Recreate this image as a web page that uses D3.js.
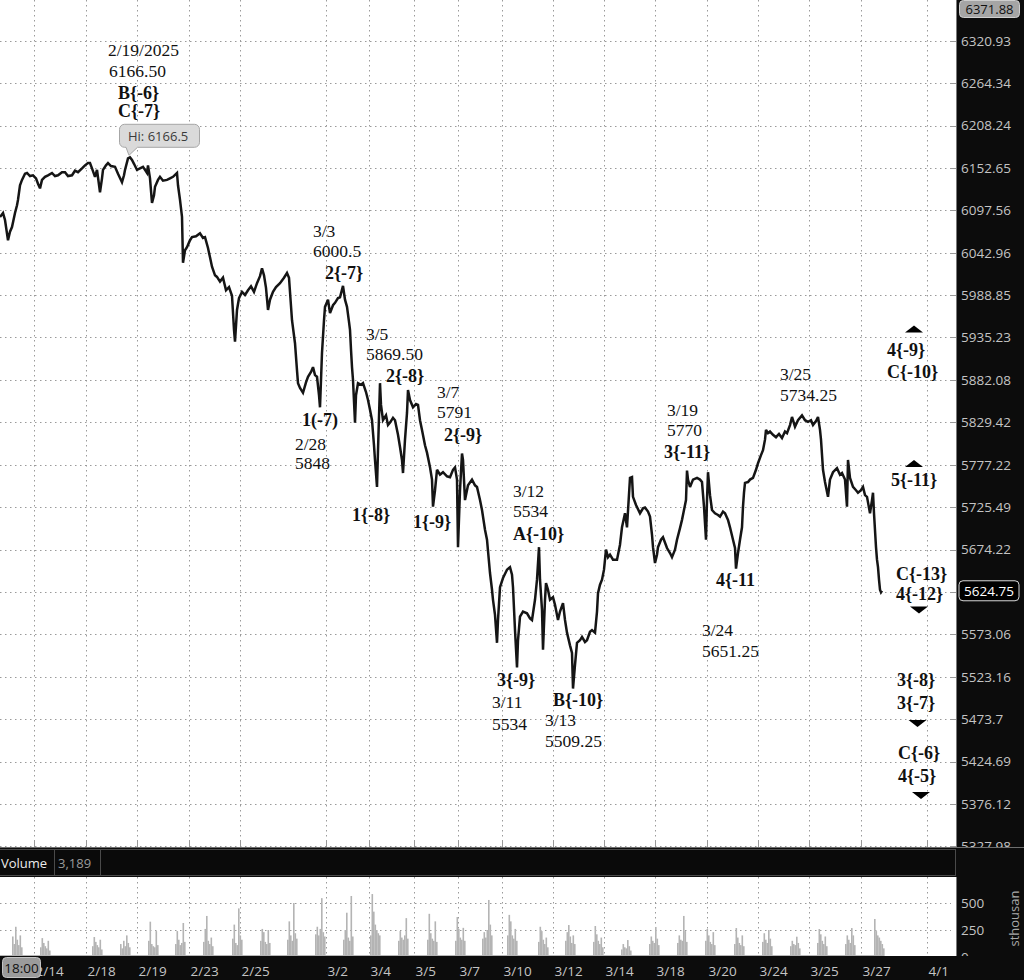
<!DOCTYPE html>
<html>
<head>
<meta charset="utf-8">
<title>ES chart</title>
<style>
  body { margin: 0; background: #fff; }
  svg { display: block; }
  .grid line { stroke: #9a9a9a; stroke-width: 1; stroke-dasharray: 1.5,3.5; }
  .ax text { font-family: "Open Sans", sans-serif; font-size: 13.5px; fill: #c4c4c4; }
  .note { font-family: "Liberation Serif", "Times New Roman", serif; fill: #111; }
</style>
</head>
<body>
<div id="chart"></div>
<script src="https://cdn.jsdelivr.net/npm/d3@7"></script>
<script>
// x unit = bar index (compressed intraday bars)
var priceData = [[0,6089],[6,6094],[10,6085],[16,6059],[20,6070],[24,6076],[30,6094],[34,6104],[36,6111],[40,6130],[44,6137],[50,6145],[54,6146],[60,6142],[66,6143],[72,6139],[76,6132],[80,6126],[84,6137],[90,6141],[96,6143],[104,6146],[110,6142],[116,6143],[124,6147],[130,6147],[136,6142],[144,6143],[150,6149],[156,6147],[164,6152],[170,6156],[176,6159],[180,6159],[184,6152],[190,6141],[194,6150],[200,6121],[204,6139],[206,6150],[212,6156],[216,6159],[222,6155],[230,6154],[236,6145],[244,6134],[248,6143],[250,6150],[256,6165],[260,6166.5],[264,6163],[268,6158],[274,6150],[280,6152],[286,6154],[290,6150],[294,6146],[296,6156],[300,6139],[304,6107],[308,6117],[310,6128],[316,6137],[320,6141],[326,6136],[334,6137],[340,6139],[346,6141],[354,6146],[356,6130],[360,6111],[364,6089],[366,6030],[370,6046],[374,6050],[380,6059],[384,6063],[392,6064],[400,6068],[406,6062],[410,6063],[416,6049],[420,6037],[424,6025],[430,6014],[434,6012],[440,6006],[446,6011],[452,5995],[458,5999],[464,5988],[468,5945],[470,5930],[474,5970],[478,5985],[484,5993],[490,5989],[496,5995],[502,6000],[508,5993],[514,6004],[520,6013],[524,6023],[528,6014],[532,5998],[536,5970],[540,5983],[546,5993],[552,5999],[560,6004],[568,6011],[574,6017],[578,6011],[584,5957],[590,5928],[594,5894],[596,5878],[600,5872],[606,5866],[612,5879],[616,5886],[622,5892],[626,5898],[630,5888],[634,5886],[638,5863],[640,5848],[644,5916],[648,5957],[650,5974],[656,5983],[660,5966],[666,5976],[670,5979],[676,5985],[680,5986],[686,6000.5],[690,5983],[694,5974],[698,5955],[700,5945],[702,5920],[704,5898],[706,5882],[710,5829],[712,5863],[716,5878],[722,5876],[726,5878],[732,5867],[736,5857],[740,5845],[744,5832],[748,5801],[750,5783],[754,5750],[756,5795],[760,5878],[762,5851],[766,5832],[772,5838],[776,5826],[780,5829],[786,5835],[790,5832],[796,5814],[800,5799],[804,5783],[806,5767],[810,5808],[814,5841],[816,5869.5],[820,5857],[826,5848],[832,5852],[836,5851],[840,5832],[844,5820],[850,5801],[854,5792],[860,5774],[864,5759],[866,5726],[870,5746],[874,5771],[880,5765],[886,5768],[894,5763],[900,5762],[906,5771],[910,5774],[914,5759],[916,5677],[920,5746],[924,5791],[926,5783],[930,5734],[936,5752],[944,5759],[950,5752],[954,5750],[960,5734],[964,5722],[970,5698],[974,5686],[980,5646],[984,5626],[986,5614],[990,5596],[994,5563],[996,5590],[1000,5629],[1006,5640],[1014,5650],[1020,5653],[1024,5644],[1026,5629],[1030,5578],[1034,5534],[1036,5566],[1040,5594],[1046,5600],[1054,5598],[1060,5592],[1064,5590],[1070,5614],[1074,5638],[1078,5677],[1080,5638],[1084,5602],[1086,5555],[1090,5614],[1092,5634],[1096,5626],[1100,5614],[1106,5617],[1110,5608],[1116,5590],[1120,5600],[1126,5610],[1130,5590],[1134,5575],[1140,5560],[1144,5551],[1146,5509.25],[1150,5537],[1154,5563],[1160,5566],[1164,5570],[1170,5564],[1174,5566],[1180,5576],[1184,5578],[1190,5575],[1194,5600],[1196,5622],[1200,5632],[1204,5638],[1208,5650],[1212,5674],[1216,5665],[1220,5668],[1226,5662],[1234,5662],[1240,5680],[1244,5701],[1250,5718],[1254,5701],[1260,5761],[1264,5762],[1266,5738],[1272,5728],[1280,5718],[1286,5724],[1290,5725],[1296,5720],[1300,5714],[1304,5692],[1306,5677],[1310,5658],[1314,5668],[1316,5677],[1322,5686],[1326,5689],[1334,5676],[1340,5670],[1344,5665],[1350,5674],[1354,5686],[1360,5700],[1364,5710],[1368,5722],[1372,5734],[1374,5770],[1376,5759],[1380,5750],[1386,5759],[1394,5761],[1400,5759],[1404,5756],[1408,5726],[1412,5686],[1414,5734],[1416,5768],[1420,5740],[1424,5722],[1430,5718],[1436,5716],[1440,5714],[1446,5720],[1450,5718],[1456,5710],[1460,5701],[1466,5686],[1470,5676],[1472,5651.25],[1476,5670],[1480,5686],[1484,5701],[1486,5726],[1488,5743],[1490,5755],[1496,5756],[1500,5759],[1506,5761],[1512,5771],[1516,5779],[1522,5789],[1526,5795],[1530,5808],[1532,5820],[1536,5816],[1540,5818],[1546,5814],[1552,5811],[1558,5815],[1564,5810],[1570,5818],[1574,5816],[1580,5826],[1584,5836],[1590,5824],[1596,5832],[1604,5838],[1610,5832],[1616,5830],[1622,5832],[1626,5826],[1632,5831],[1636,5836],[1640,5820],[1642,5808],[1646,5771],[1650,5756],[1656,5738],[1660,5759],[1666,5768],[1674,5773],[1680,5765],[1684,5767],[1690,5759],[1694,5726],[1696,5783],[1700,5761],[1706,5750],[1712,5746],[1716,5743],[1722,5746],[1726,5750],[1730,5740],[1734,5738],[1740,5718],[1744,5734],[1746,5743],[1748,5718],[1752,5677],[1754,5662],[1756,5653],[1758,5638],[1760,5626],[1762,5623],[1764,5624.75]];

var priceTicks = [6320.93,6264.34,6208.24,6152.65,6097.56,6042.96,5988.85,5935.23,5882.08,5829.42,5777.22,5725.49,5674.22,5623.41,5573.06,5523.16,5473.7,5424.69,5376.12,5327.98];
var priceTop = 6371.88, lastPrice = 5624.75;

var dateBars = [68,172,274,378,480,652,738,828,916,1004,1106,1208,1310,1414,1516,1618,1722,1854];
var dateLabels = ["2/14","2/18","2/19","2/23","2/25","3/2","3/4","3/5","3/7","3/10","3/12","3/14","3/18","3/20","3/24","3/25","3/27","4/1"];

// volume in thousands, one cluster per regular session
var volStart = [24,80,184,240,296,350,406,464,520,574,630,686,740,796,854,910,964,1014,1076,1130,1186,1242,1298,1354,1410,1468,1524,1580,1634,1690,1748];
var volBars = [
  [190,120,280,160,110,200,90],[90,175,130,100,80,150,60],[100,185,140,110,90,160,70],[120,80,150,100,200,130,90],
  [150,327,120,100,90,240,110],[120,240,160,110,130,315,140],[140,260,380,150,120,180,100],[170,300,130,110,450,200,160],
  [150,260,230,140,120,250,130],[160,330,200,150,500,220,170],[210,280,200,260,545,230,190],[160,250,410,180,150,565,190],
  [200,583,420,300,250,220,200],[150,240,180,160,200,360,170],[160,400,220,170,150,330,140],[150,370,260,180,160,270,150],
  [170,230,180,250,528,300,200],[200,390,330,200,170,260,150],[140,280,240,160,120,180,90],[150,230,296,190,130,200,120],
  [140,287,210,150,120,180,90],[70,120,90,80,157,100,60],[120,190,150,130,278,170,110],[130,200,160,150,380,240,140],
  [150,259,200,140,120,230,110],[120,268,180,130,110,200,100],[140,220,160,130,250,170,100],[100,150,120,110,188,130,80],
  [130,259,210,150,120,190,100],[120,200,160,130,268,200,110],[352,240,200,180,150,120,80]
];
var volTicks = [0,250,500];

// [bar, price, text, bold]
var notes = [
  [216,6300.5,"2/19/2025",0],[218,6272.5,"6166.50",0],[236,6243.3,"B{-6}",1],[236,6219.5,"C{-7}",1],
  [626,6063.2,"3/3",0],[626,6037.5,"6000.5",0],[650,6009.4,"2{-7}",1],
  [604,5824.9,"1(-7)",1],[590,5795.3,"2/28",0],[590,5772.0,"5848",0],
  [732,5932.1,"3/5",0],[732,5907.0,"5869.50",0],[772,5879.5,"2{-8}",1],[704,5708.7,"1{-8}",1],
  [874,5859.6,"3/7",0],[874,5834.8,"5791",0],[888,5806.4,"2{-9}",1],[826,5700.2,"1{-9}",1],
  [1026,5737.8,"3/12",0],[1026,5713.5,"5534",0],[1026,5685.7,"A{-10}",1],
  [994,5512.3,"3{-9}",1],[984,5486.7,"3/11",0],[984,5461.1,"5534",0],
  [1106,5489.0,"B{-10}",1],[1090,5465.7,"3/13",0],[1090,5441.4,"5509.25",0],
  [1334,5837.3,"3/19",0],[1334,5812.6,"5770",0],[1328,5785.5,"3{-11}",1],
  [1560,5882.0,"3/25",0],[1560,5855.9,"5734.25",0],
  [1432,5630.5,"4{-11",1],[1404,5571.1,"3/24",0],[1404,5546.3,"5651.25",0],
  [1774,5912.0,"4{-9}",1],[1774,5884.4,"C{-10}",1],[1782,5751.2,"5{-11}",1],
  [1792,5637.6,"C{-13}",1],[1792,5613.8,"4{-12}",1],
  [1794,5512.3,"3{-8}",1],[1794,5485.5,"3{-7}",1],[1796,5427.6,"C{-6}",1],[1796,5401.2,"4{-5}",1]
];
// [bar, price, direction]
var arrows = [[1828,5946.0,1],[1828,5778.7,1],[1838,5601.9,-1],[1835,5468.6,-1],[1842,5385.7,-1]];
var hiBar = 260, hiPrice = 6166.5;

var width = 1024, height = 980;
var plotR = 956, priceBottom = 847, volTop = 877, volBottom = 956;

var x = d3.scaleLinear().domain([0, 1912]).range([0, plotR]);
var y = d3.scaleLog().domain([5327.98, 6320.93]).range([846.3, 40.7]);
var yv = d3.scaleLinear().domain([0, 500]).range([957, 903]);

var svg = d3.select("#chart").append("svg")
  .attr("width", width).attr("height", height);

var defs = svg.append("defs");
defs.append("clipPath").attr("id", "clipPrice").append("rect")
  .attr("x", 0).attr("y", 0).attr("width", width).attr("height", priceBottom);
defs.append("clipPath").attr("id", "clipVol").append("rect")
  .attr("x", 0).attr("y", volTop).attr("width", width).attr("height", volBottom - volTop);

svg.append("rect").attr("width", width).attr("height", height).attr("fill", "#fff");

// grids
var grid = svg.append("g").attr("class", "grid");
grid.selectAll(".hy").data(priceTicks).enter().append("line")
  .attr("x1", 0).attr("x2", plotR - 5)
  .attr("y1", function(d) { return Math.round(y(d)) + 0.5; })
  .attr("y2", function(d) { return Math.round(y(d)) + 0.5; });
grid.selectAll(".vx").data(dateBars).enter().append("line")
  .attr("x1", function(d) { return Math.round(x(d)) + 0.5; })
  .attr("x2", function(d) { return Math.round(x(d)) + 0.5; })
  .attr("y1", 0).attr("y2", priceBottom - 6);
grid.selectAll(".vv").data(dateBars).enter().append("line")
  .attr("x1", function(d) { return Math.round(x(d)) + 0.5; })
  .attr("x2", function(d) { return Math.round(x(d)) + 0.5; })
  .attr("y1", volTop).attr("y2", volBottom);
grid.selectAll(".hv").data([250, 500]).enter().append("line")
  .attr("x1", 0).attr("x2", plotR - 5)
  .attr("y1", function(d) { return Math.round(yv(d)) + 0.5; })
  .attr("y2", function(d) { return Math.round(yv(d)) + 0.5; });

svg.append("g").selectAll("line").data(dateBars).enter().append("line")
  .attr("x1", function(d) { return Math.round(x(d)) + 0.5; })
  .attr("x2", function(d) { return Math.round(x(d)) + 0.5; })
  .attr("y1", priceBottom - 6).attr("y2", priceBottom)
  .attr("stroke", "#999");
svg.append("g").selectAll("line").data(priceTicks).enter().append("line")
  .attr("x1", plotR - 5).attr("x2", plotR)
  .attr("y1", function(d) { return Math.round(y(d)) + 0.5; })
  .attr("y2", function(d) { return Math.round(y(d)) + 0.5; })
  .attr("stroke", "#999");

// price line
var line = d3.line().x(function(d) { return x(d[0]); }).y(function(d) { return y(d[1]); });
svg.append("path").datum(priceData)
  .attr("clip-path", "url(#clipPrice)")
  .attr("d", line)
  .attr("fill", "none").attr("stroke", "#151515").attr("stroke-width", 2.5)
  .attr("stroke-linejoin", "miter").attr("stroke-miterlimit", 3);

// hi bubble
var hx = x(hiBar), hy = y(hiPrice);
svg.append("path")
  .attr("d", "M" + (hx - 4) + "," + (hy - 10) + " h-1.5 a5,5 0 0 1 -5,-5 v-13 a5,5 0 0 1 5,-5 h70 a5,5 0 0 1 5,5 v13 a5,5 0 0 1 -5,5 h-57 L" + (hx - 1) + "," + (hy - 2) + " Z")
  .attr("fill", "#dadada").attr("stroke", "#a6a6a6");
svg.append("text").attr("x", hx - 2).attr("y", hy - 16)
  .style("font-family", "'Open Sans', sans-serif").style("font-size", "13px").style("fill", "#3a3a3a")
  .text("Hi: " + hiPrice);

// annotations
svg.append("g").selectAll("text").data(notes).enter().append("text")
  .attr("class", "note")
  .attr("x", function(d) { return x(d[0]); })
  .attr("y", function(d) { return y(d[1]); })
  .style("font-size", function(d) { return d[3] ? "18px" : "17.5px"; })
  .style("font-weight", function(d) { return d[3] ? "bold" : "normal"; })
  .text(function(d) { return d[2]; });

svg.append("g").selectAll("path").data(arrows).enter().append("path")
  .attr("d", function(d) {
    var cx = x(d[0]), cy = y(d[1]), s = d[2];
    return "M" + (cx - 9) + "," + (cy + 3.5 * s) + "L" + (cx + 9) + "," + (cy + 3.5 * s) + "L" + cx + "," + (cy - 3.5 * s) + "Z";
  })
  .attr("fill", "#000");

// volume bars
var vols = [];
volStart.forEach(function(s, i) {
  volBars[i].forEach(function(v, j) { vols.push([s + j * 3, v]); });
});
svg.append("line").attr("x1", x(0)).attr("x2", x(1768))
  .attr("y1", volBottom - 0.5).attr("y2", volBottom - 0.5).attr("stroke", "#b8b8b8");
svg.append("g").attr("clip-path", "url(#clipVol)").selectAll("rect").data(vols).enter().append("rect")
  .attr("x", function(d) { return x(d[0]); })
  .attr("width", 1.6)
  .attr("y", function(d) { return yv(d[1]); })
  .attr("height", function(d) { return yv(0) - yv(d[1]); })
  .attr("fill", "#b4b4b4");

// right axis panel
svg.append("rect").attr("x", plotR).attr("y", 0).attr("width", width - plotR).attr("height", height).attr("fill", "#0c0c0c");
svg.append("line").attr("x1", plotR + 0.5).attr("x2", plotR + 0.5).attr("y1", 0).attr("y2", volBottom).attr("stroke", "#7a7a7a");

svg.append("g").attr("class", "ax").attr("clip-path", "url(#clipPrice)")
  .attr("transform", "translate(" + plotR + ",0)")
  .call(d3.axisRight(y).tickValues(priceTicks).tickSize(0).tickPadding(5)
    .tickFormat(function(d) { return d === 5623.41 ? "" : d; }))
  .call(function(g) { g.select(".domain").remove(); });

svg.append("g").attr("class", "ax").attr("clip-path", "url(#clipVol)")
  .attr("transform", "translate(" + plotR + ",0)")
  .call(d3.axisRight(yv).tickValues(volTicks).tickSize(0).tickPadding(5).tickFormat(function(d) { return d; }))
  .call(function(g) { g.select(".domain").remove(); });

svg.append("text")
  .attr("transform", "translate(1019," + ((volTop + volBottom) / 2 + 2) + ") rotate(-90)")
  .attr("text-anchor", "middle")
  .style("font-family", "'Open Sans', sans-serif").style("font-size", "13px").style("fill", "#a8a8a8")
  .text("sthousan");

// top and last price boxes
svg.append("rect").attr("x", 959.5).attr("y", 0.5).attr("width", 60).attr("height", 17).attr("rx", 4)
  .attr("fill", "#a5a5a5").attr("stroke", "#cfcfcf");
svg.append("text").attr("x", 989.5).attr("y", 9).attr("text-anchor", "middle").attr("dy", "0.35em")
  .style("font-family", "'Open Sans', sans-serif").style("font-size", "13px").style("fill", "#111")
  .text(priceTop);
svg.append("rect").attr("x", 959).attr("y", y(lastPrice) - 10).attr("width", 60).attr("height", 20).attr("rx", 4)
  .attr("fill", "#000").attr("stroke", "#d8d8d8");
svg.append("text").attr("x", 989).attr("y", y(lastPrice)).attr("text-anchor", "middle").attr("dy", "0.35em")
  .style("font-family", "'Open Sans', sans-serif").style("font-size", "13.5px").style("fill", "#fff")
  .text(lastPrice);

// separator and volume header
svg.append("line").attr("x1", 0).attr("x2", width).attr("y1", priceBottom + 0.5).attr("y2", priceBottom + 0.5).attr("stroke", "#6e6e6e");
svg.append("rect").attr("x", 0).attr("y", priceBottom + 1).attr("width", width).attr("height", volTop - priceBottom - 1).attr("fill", "#0c0c0c");
svg.append("rect").attr("x", -1).attr("y", 849.5).attr("width", plotR + 0.5).attr("height", 26).attr("fill", "#0a0a0a").attr("stroke", "#4a4a4a");
svg.append("line").attr("x1", 54.5).attr("x2", 54.5).attr("y1", 850).attr("y2", 875).attr("stroke", "#4a4a4a");
svg.append("line").attr("x1", 100.5).attr("x2", 100.5).attr("y1", 850).attr("y2", 875).attr("stroke", "#4a4a4a");
svg.append("text").attr("x", 1).attr("y", 867.5)
  .style("font-family", "'Open Sans', sans-serif").style("font-size", "13px").style("fill", "#ececec")
  .text("Volume");
svg.append("text").attr("x", 58).attr("y", 867.5)
  .style("font-family", "'Open Sans', sans-serif").style("font-size", "13px").style("fill", "#9a9a9a")
  .text("3,189");

// bottom axis
svg.append("rect").attr("x", 0).attr("y", volBottom).attr("width", width).attr("height", height - volBottom).attr("fill", "#0c0c0c");
svg.append("g").attr("class", "ax")
  .attr("transform", "translate(0," + volBottom + ")")
  .call(d3.axisBottom(x).tickValues(dateBars).tickSize(0).tickPadding(10)
    .tickFormat(function(d, i) { return dateLabels[i]; }))
  .call(function(g) {
    g.select(".domain").remove();
    g.selectAll("text").attr("text-anchor", "start").attr("dx", 1);
  });

svg.append("rect").attr("x", 2.5).attr("y", 957.5).attr("width", 38).attr("height", 20).attr("rx", 4)
  .attr("fill", "#9b9b9b").attr("stroke", "#c4c4c4");
svg.append("text").attr("x", 21.5).attr("y", 968).attr("text-anchor", "middle").attr("dy", "0.35em")
  .style("font-family", "'Open Sans', sans-serif").style("font-size", "13.5px").style("fill", "#111")
  .text("18:00");
</script>
</body>
</html>
